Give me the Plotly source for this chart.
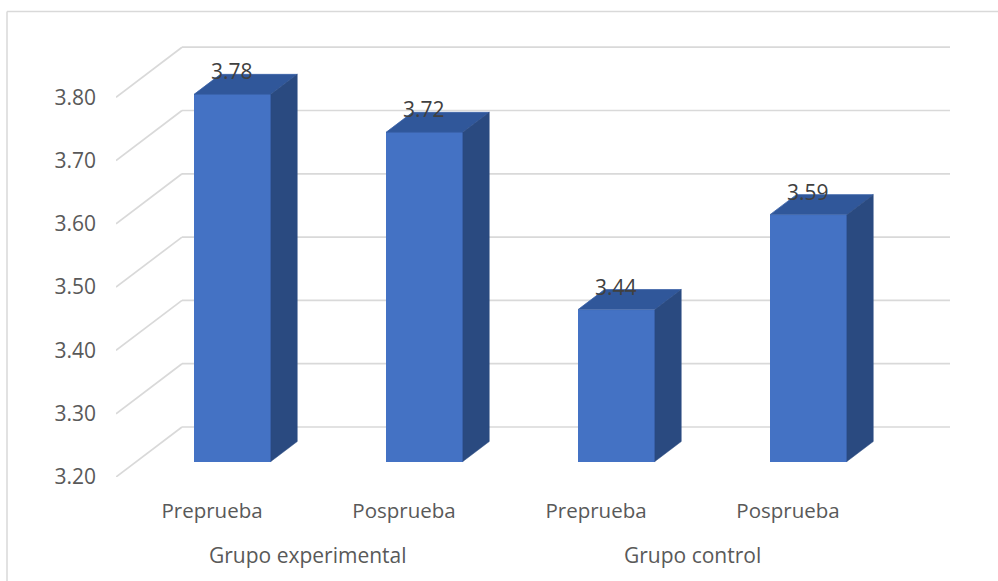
import plotly.graph_objects as go

# ---- data ----
groups = ["Grupo experimental", "Grupo control"]
tests = ["Preprueba", "Posprueba", "Preprueba", "Posprueba"]
means = [3.78, 3.72, 3.44, 3.59]
y_ticks = [3.20, 3.30, 3.40, 3.50, 3.60, 3.70, 3.80]

# ---- layout constants (pseudo-3D projection) ----
W, H = 998, 581
ML, MB = 116, 104
PX_PER_CAT = 192.0
PX_PER_VAL = 633.0
BASE = 3.20
DX = 66 / PX_PER_CAT          # depth shift of the back wall, x units
DY = 50 / PX_PER_VAL          # depth shift of the back wall, y units
F0, F1 = 0.31, 0.71           # front / back depth fraction of the bars
HALF_W = 0.2

FRONT = "#4472C4"
TOP = "#30579A"
SIDE = "#2A4A80"
GRID = "#D9D9D9"
FONT = "Open Sans"

plot_w = W - ML
plot_h = H - MB
x_range = [-0.5, -0.5 + plot_w / PX_PER_CAT]
y_range = [BASE, BASE + plot_h / PX_PER_VAL]

fig = go.Figure()
shapes = []

# back wall gridlines and the diagonal floor/side lines
for v in y_ticks:
    shapes.append(dict(type="line", xref="x", yref="y", layer="below",
                       x0=-0.5 + DX, y0=v + DY, x1=3.5 + DX, y1=v + DY,
                       line=dict(color=GRID, width=1.7)))
    shapes.append(dict(type="line", xref="x", yref="y", layer="below",
                       x0=-0.5, y0=v, x1=-0.5 + DX, y1=v + DY,
                       line=dict(color=GRID, width=1.7)))

# chart border (top and left edges)
bx = (7 - ML) / plot_w
by = (plot_h - 11.5) / plot_h
shapes.append(dict(type="line", xref="paper", yref="paper", x0=bx, y0=by, x1=1.05, y1=by,
                   line=dict(color=GRID, width=1.5)))
shapes.append(dict(type="line", xref="paper", yref="paper", x0=bx, y0=by, x1=bx, y1=-0.5,
                   line=dict(color=GRID, width=1.5)))

idx = list(range(len(means)))
fx0, fy0 = F0 * DX, F0 * DY
fx1, fy1 = F1 * DX, F1 * DY

# front faces
fig.add_trace(go.Bar(
    x=[i + fx0 for i in idx],
    y=[m - BASE for m in means],
    base=[BASE + fy0] * len(means),
    width=HALF_W * 2,
    marker=dict(color=FRONT, line=dict(width=0)),
    hoverinfo="skip", showlegend=False,
))

# top and side faces
for i, m in zip(idx, means):
    xl, xr = i - HALF_W, i + HALF_W
    fig.add_trace(go.Scatter(
        x=[xl + fx0, xr + fx0, xr + fx1, xl + fx1, xl + fx0],
        y=[m + fy0, m + fy0, m + fy1, m + fy1, m + fy0],
        fill="toself", fillcolor=TOP, mode="lines",
        line=dict(color="#3A62A8", width=0.8),
        hoverinfo="skip", showlegend=False))
    fig.add_trace(go.Scatter(
        x=[xr + fx0, xr + fx1, xr + fx1, xr + fx0, xr + fx0],
        y=[BASE + fy0, BASE + fy1, m + fy1, m + fy0, BASE + fy0],
        fill="toself", fillcolor=SIDE, mode="lines",
        line=dict(color=SIDE, width=0.5),
        hoverinfo="skip", showlegend=False))

annotations = []
# value labels
for i, m in zip(idx, means):
    annotations.append(dict(x=i + fx0, y=m + fy0, xref="x", yref="y",
                            text=f"{m:.2f}", showarrow=False, yshift=23,
                            yanchor="middle",
                            font=dict(family=FONT, size=21, color="#404040")))
# group labels
for g, c in zip(groups, [0.5, 2.5]):
    annotations.append(dict(x=c, y=-(555 - plot_h) / plot_h, xref="x", yref="paper",
                            text=g, showarrow=False, yanchor="middle",
                            font=dict(family=FONT, size=21, color="#595959")))

fig.update_layout(
    width=W, height=H,
    margin=dict(l=ML, r=0, t=0, b=MB),
    paper_bgcolor="white", plot_bgcolor="white",
    shapes=shapes, annotations=annotations,
    bargap=0,
    xaxis=dict(range=x_range, tickmode="array", tickvals=idx, ticktext=tests,
               showgrid=False, zeroline=False, showline=False, ticks="",
               ticklabelstandoff=19,
               tickfont=dict(family=FONT, size=20.5, color="#595959")),
    yaxis=dict(range=y_range, tickmode="array", tickvals=y_ticks,
               ticktext=[f"{v:.2f}" for v in y_ticks],
               showgrid=False, zeroline=False, showline=False, ticks="",
               ticklabelstandoff=19,
               tickfont=dict(family=FONT, size=21, color="#595959")),
)

fig.write_html("out.html")
